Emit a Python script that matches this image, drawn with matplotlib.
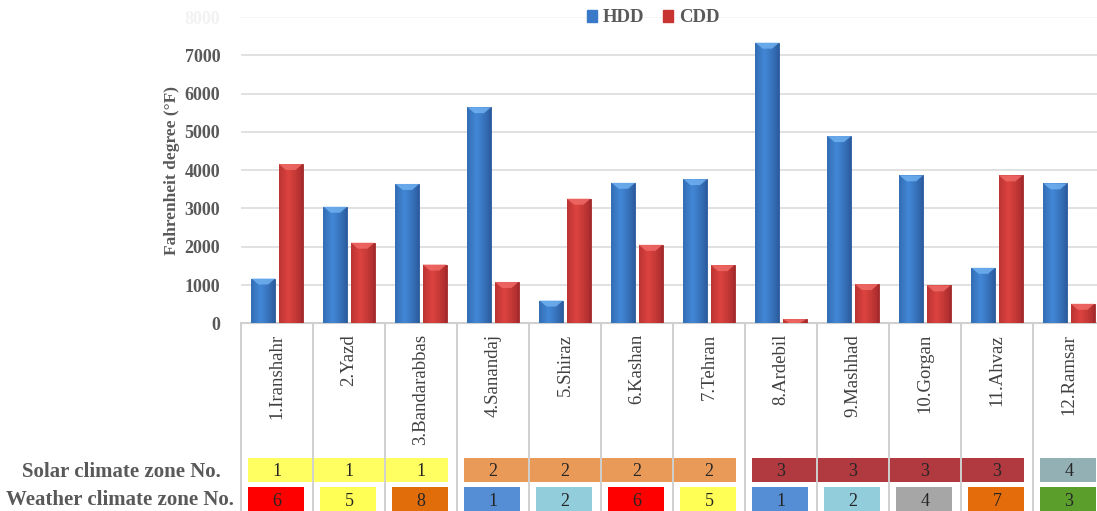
import numpy as np
import matplotlib
matplotlib.use("Agg")
import matplotlib.pyplot as plt
from matplotlib.transforms import blended_transform_factory
from matplotlib.patches import Rectangle, Polygon
from matplotlib.lines import Line2D

# ---- data ----
cities = ["1.Iranshahr", "2.Yazd", "3.Bandarabbas", "4.Sanandaj", "5.Shiraz",
          "6.Kashan", "7.Tehran", "8.Ardebil", "9.Mashhad", "10.Gorgan",
          "11.Ahvaz", "12.Ramsar"]
hdd = [1170, 3045, 3640, 5645, 595, 3670, 3765, 7330, 4890, 3865, 1450, 3655]
cdd = [4160, 2105, 1535, 1080, 3255, 2050, 1520, 110, 1025, 990, 3865, 510]
solar_zone = [1, 1, 1, 2, 2, 2, 2, 3, 3, 3, 3, 4]
weather_zone = [6, 5, 8, 1, 2, 6, 5, 1, 2, 4, 7, 3]
yticks = [0, 1000, 2000, 3000, 4000, 5000, 6000, 7000, 8000]

solar_colors = {1: "#ffff55", 2: "#e8914a", 3: "#a9292f", 4: "#8aabae"}
weather_colors = {1: "#558ed5", 2: "#92cddc", 3: "#5b9e2b", 4: "#a6a6a6",
                  5: "#ffff55", 6: "#ff0000", 7: "#e46c0a", 8: "#e06c0a"}

SERIF = "Liberation Serif"
GREY = "#595959"

fig = plt.figure(figsize=(10.97, 5.11), dpi=100)
W, H = 1097.0, 511.0
ax = fig.add_axes([241 / W, (H - 323.3) / H, 864 / W, (323.3 - 17) / H])

x = np.arange(len(cities))
bw = 0.33
off = 0.19


def shaded_bars(xpos, vals, light, dark, top):
    bars = ax.bar(xpos, vals, bw, color=dark, zorder=3, linewidth=0.6,
                  edgecolor=dark)
    t = np.linspace(0, 1, 64)
    # brighter toward the left-centre, darker at the edges
    k = np.clip(1 - np.abs(t - 0.4) / 0.6, 0, 1) ** 0.8
    lc = np.array(matplotlib.colors.to_rgb(light))
    dc = np.array(matplotlib.colors.to_rgb(dark))
    grad = dc[None, :] * (1 - k[:, None]) + lc[None, :] * k[:, None]
    grad = grad[None, :, :]
    bevel = 8000 * 6 / 306.3   # about six pixels of bevel in data units
    for b in bars:
        x0, w, h = b.get_x(), b.get_width(), b.get_height()
        im = ax.imshow(grad, extent=[x0, x0 + w, 0, h], aspect="auto",
                       zorder=4, interpolation="bilinear")
        im.set_clip_path(b)
        d = min(bevel, h)
        ax.add_patch(Polygon([[x0, h], [x0 + w, h], [x0 + 0.7 * w, h - d],
                              [x0 + 0.3 * w, h - d]], closed=True,
                             color=top, lw=0, zorder=5, alpha=0.85))
    return bars


shaded_bars(x - off, hdd, "#4287d6", "#2a5a9c", "#6fb0f0")
shaded_bars(x + off, cdd, "#dc433f", "#a3292a", "#f06a66")

ax.set_xlim(-0.5, len(cities) - 0.5)
ax.set_ylim(0, 8000)
ax.set_yticks(yticks)
ax.set_yticklabels([str(v) for v in yticks], fontfamily=SERIF,
                   fontweight="bold", fontsize=13, color=GREY)
ax.get_yticklabels()[-1].set_color("#f2f2f2")
ax.tick_params(axis="y", length=0, pad=15)
ax.tick_params(axis="x", length=0, labelbottom=False)
ax.set_xticks([])
for v in yticks[1:]:
    ax.axhline(v, color="#d9d9d9" if v < 8000 else "#f2f2f2", lw=1.1, zorder=1)
for s in ["top", "right", "left"]:
    ax.spines[s].set_visible(False)
ax.spines["bottom"].set_color("#d0d0d0")
ax.spines["bottom"].set_linewidth(1.5)

ax.set_ylabel("Fahrenheit degree (°F)", fontfamily=SERIF, fontweight="bold",
              fontsize=12.5, color=GREY, labelpad=3)

# legend
hdd_patch = Rectangle((0, 0), 1, 1, color="#3a78c8")
cdd_patch = Rectangle((0, 0), 1, 1, color="#c83432")
fig.legend([hdd_patch, cdd_patch], ["HDD", "CDD"], loc="center",
           bbox_to_anchor=(653 / W, (H - 18) / H), ncol=2, frameon=False,
           prop={"family": SERIF, "weight": "bold", "size": 13.5},
           handlelength=0.55, handleheight=0.55, handletextpad=0.3,
           columnspacing=1.0, labelcolor=GREY)

# table region under the axis
tr = blended_transform_factory(ax.transData, fig.transFigure)
y_axis_fig = (H - 323.3) / H
for b in np.arange(-0.5, len(cities) + 0.5, 1.0):
    ax.add_line(Line2D([b, b], [-0.05, y_axis_fig], transform=tr,
                       color="#d0d0d0", lw=1.4, zorder=2, clip_on=False))

for i, name in enumerate(cities):
    ax.text(i, (H - 334) / H, name, transform=tr, rotation=90, ha="center",
            va="top", fontfamily=SERIF, fontsize=13.5, color="#404040",
            clip_on=False)

# solar climate zone bands (one band per run of equal zones)
solar_top, solar_bot = (H - 458) / H, (H - 481.7) / H
start = 0
for i in range(1, len(cities) + 1):
    if i == len(cities) or solar_zone[i] != solar_zone[start]:
        x0 = start - 0.5 + 0.1
        x1 = i - 1 + 0.5 - 0.12
        ax.add_patch(Rectangle((x0, solar_bot), x1 - x0, solar_top - solar_bot,
                               transform=tr, color=solar_colors[solar_zone[start]],
                               alpha=0.92, zorder=1.5, lw=0, clip_on=False))
        start = i
for i, z in enumerate(solar_zone):
    ax.text(i, (solar_top + solar_bot) / 2 - 0.003, str(z), transform=tr,
            ha="center", va="center", fontfamily=SERIF, fontsize=13,
            color="#262626", clip_on=False, zorder=6)

# weather climate zone boxes
w_top, w_bot = (H - 486.7) / H, -0.05
for i, z in enumerate(weather_zone):
    x0 = i - 0.5 + 0.1
    x1 = i + 0.5 - 0.13
    ax.add_patch(Rectangle((x0, w_bot), x1 - x0, w_top - w_bot, transform=tr,
                           color=weather_colors[z], zorder=3, lw=0,
                           clip_on=False))
    ax.text(i, (H - 501) / H, str(z), transform=tr, ha="center", va="center",
            fontfamily=SERIF, fontsize=13, color="#262626", clip_on=False,
            zorder=6)

fig.text(121 / W, (H - 472) / H, "Solar climate zone No.", ha="center",
         va="center", fontfamily=SERIF, fontweight="bold", fontsize=15,
         color=GREY)
fig.text(120 / W, (H - 500) / H, "Weather climate zone No.", ha="center",
         va="center", fontfamily=SERIF, fontweight="bold", fontsize=15,
         color=GREY)

fig.savefig("out.png", dpi=100)
